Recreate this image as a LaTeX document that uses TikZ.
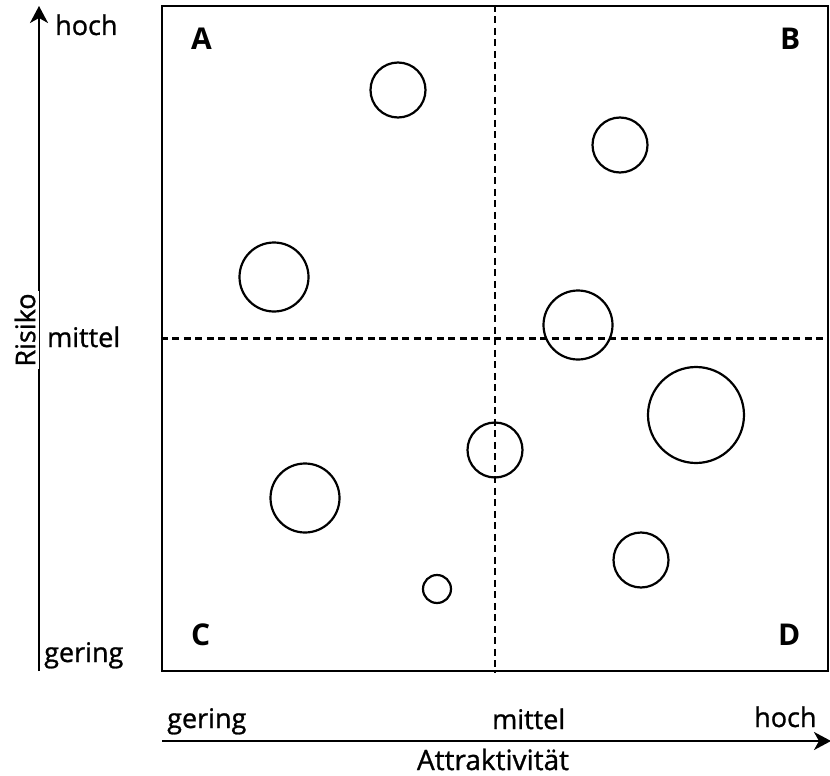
\documentclass[tikz,border=0pt]{standalone}
\usepackage{fontspec}
\setmainfont{Open Sans}
\usetikzlibrary{arrows.meta}
\begin{document}
\begin{tikzpicture}[x=1pt,y=-1pt,
  lbl/.style={font=\fontsize{27}{30}\selectfont\addfontfeatures{FakeBold=1}, inner sep=0pt, anchor=base west},
  quad/.style={font=\fontsize{30}{32}\selectfont\bfseries, inner sep=0pt, anchor=base west},
  bubble/.style={draw, circle, line width=2.2pt, inner sep=0pt},
  axis/.style={line width=2.2pt, -{Stealth[length=17pt,width=18pt,inset=5pt]}},
  divider/.style={line width=2.2pt, dash pattern=on 7pt off 4.5pt}]
\useasboundingbox (0,0) rectangle (830,776);
% matrix frame
\node[draw, line width=2.4pt, inner sep=0pt, minimum width=666pt, minimum height=665pt] (box) at (495,338.5) {};
\draw[divider] (box.north) -- (box.south);
\draw[divider] (box.west) -- (box.east);
% quadrant letters
\node[quad] (qa) at (191,50) {A};
\node[quad] (qb) at (780,50) {B};
\node[quad] (qc) at (191,645) {C};
\node[quad] (qd) at (778,645) {D};
% bubbles
\node[bubble, minimum size=55pt] (b1) at (398,90) {};
\node[bubble, minimum size=55pt] (b2) at (620,145) {};
\node[bubble, minimum size=69pt] (b3) at (274,277) {};
\node[bubble, minimum size=69pt] (b4) at (578,325) {};
\node[bubble, minimum size=96pt] (b5) at (696,415) {};
\node[bubble, minimum size=55pt] (b6) at (495,450) {};
\node[bubble, minimum size=69pt] (b7) at (305,498) {};
\node[bubble, minimum size=55pt] (b8) at (641,560) {};
\node[bubble, minimum size=28pt] (b9) at (437,589) {};
% vertical axis
\coordinate (ybot) at (39,671);
\coordinate (ytop) at (39,6);
\draw[axis] (ybot) -- (ytop);
\node[fill=white, rotate=90, inner xsep=2pt, inner ysep=4pt, font=\fontsize{27}{30}\selectfont\addfontfeatures{FakeBold=1}] (risiko) at (25,330) {Risiko};
\node[lbl] (yhoch) at (55,35) {hoch};
\node[lbl] (ymittel) at (47,347) {mittel};
\node[lbl] (ygering) at (44,662) {gering};
% horizontal axis
\coordinate (xl) at (162,741);
\coordinate (xr) at (831,741);
\draw[axis] (xl) -- (xr);
\node[lbl] (xgering) at (167,728) {gering};
\node[lbl] (xmittel) at (492,729) {mittel};
\node[lbl] (xhoch) at (754,727) {hoch};
\node[font=\fontsize{28}{30}\selectfont\addfontfeatures{FakeBold=1}, inner sep=0pt, anchor=base] (attr) at (493,770) {Attraktivität};
\end{tikzpicture}
\end{document}
